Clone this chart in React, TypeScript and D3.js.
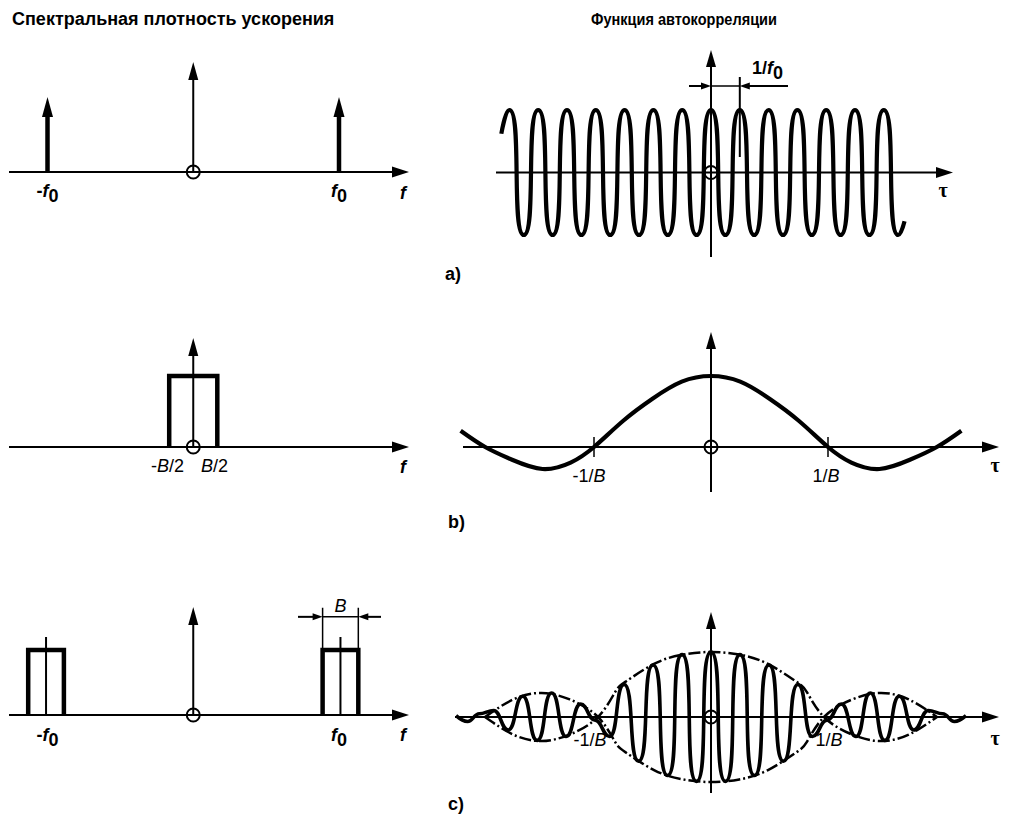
import React from 'react'
import * as d3 from 'd3'

const W = 1013
const H = 818

const titleSpectrum = 'Спектральная плотность ускорения'
const titleCorr = 'Функция автокорреляции'
const panelLetters = ['a)', 'b)', 'c)']

// left column: spectra, frequency in units of f0
const impulseFreqs = [-1, 1]
const impulseHeights = [1, 1]
const bandWidthB = 0.33
const bandHeightB = 1
const narrowBandCenters = [-1.01, 1.01]
const narrowBandWidth = 0.245
const narrowBandHeight = 1

// panel a right: cosine, extrema positions in units of 1/f0
const aPeaks = [-7, -6, -5, -4, -3, -2, -1, 0, 1, 2, 3, 4, 5, 6]
const aTroughs = [-6.5, -5.5, -4.5, -3.5, -2.5, -1.5, -0.5, 0.5, 1.5, 2.5, 3.5, 4.5, 5.5, 6.5]
const aEnds: [number, number][] = [[-7.28, 0.62], [6.72, -0.78]]

// panel b right: autocorrelation of band-limited noise, tau in units of 1/B
const bTau = [-2.14, -1.93, -1.7, -1.44, -1.2, -1, -0.75, -0.5, -0.25, 0, 0.25, 0.5, 0.75, 1, 1.2, 1.44, 1.7, 1.93, 2.14]
const bValue = [0.23, 0, -0.18, -0.31, -0.22, 0, 0.37, 0.68, 0.92, 1, 0.92, 0.68, 0.37, 0, -0.22, -0.31, -0.18, 0, 0.23]

// panel c right: carrier extrema (tau in carrier periods 1/f0) and envelope (tau in 1/B)
const cPeriodsPerInvB = 3.9
const cCarrierTau = [-8.8, -8.4, -8, -7.5, -7, -6.5, -6, -5.5, -5, -4.5, -4, -3.5, -3, -2.5, -2, -1.5, -1, -0.5, 0,
  0.5, 1, 1.5, 2, 2.5, 3, 3.5, 4, 4.5, 5, 5.5, 6, 6.5, 7, 7.5, 8, 8.4, 8.8]
const cCarrierValue = [0.02, -0.07, 0.05, 0.1, -0.2, 0.32, -0.36, 0.37, -0.3, 0.2, -0.05, -0.3, 0.5, -0.68, 0.8, -0.9, 0.96, -0.99, 1,
  -0.99, 0.96, -0.9, 0.8, -0.68, 0.5, -0.3, -0.05, 0.2, -0.3, 0.37, -0.36, 0.32, -0.2, 0.1, 0.05, -0.07, 0.02]
const cEnvTau = [-2, -1.75, -1.5, -1.25, -1, -0.85, -0.75, -0.5, -0.25, 0, 0.25, 0.5, 0.75, 0.85, 1, 1.25, 1.5, 1.75, 2]
const cEnvValue = [0, -0.27, -0.37, -0.27, 0, 0.38, 0.55, 0.82, 0.96, 1, 0.96, 0.82, 0.55, 0.38, 0, -0.27, -0.37, -0.27, 0]

const FONT = '"Liberation Sans", Arial, sans-serif'
const SERIF = '"Liberation Serif", serif'

// bezier between consecutive extrema with flat tangents; tall swings get tighter, rounder loops
function curveLoop(context: any) {
  let pts: [number, number][] = []
  return {
    areaStart() {},
    areaEnd() {},
    lineStart() { pts = [] },
    point(x: number, y: number) { pts.push([+x, +y]) },
    lineEnd() {
      if (!pts.length) return
      context.moveTo(pts[0][0], pts[0][1])
      for (let i = 1; i < pts.length; i++) {
        const [x0, y0] = pts[i - 1]
        const [x1, y1] = pts[i]
        const dx = x1 - x0
        const k = 0.4 + 0.5 * Math.min(1, Math.abs(y1 - y0) / 120)
        const c0 = i === 1 ? 0 : dx * k
        const c1 = i === pts.length - 1 ? 0 : dx * k
        context.bezierCurveTo(x0 + c0, y0, x1 - c1, y1, x1, y1)
      }
    },
  }
}

function tri(x: number, y: number, dir: 'up' | 'right' | 'left', len: number, half: number) {
  if (dir === 'up') return `${x},${y} ${x - half},${y + len} ${x + half},${y + len}`
  if (dir === 'right') return `${x},${y} ${x - len},${y - half} ${x - len},${y + half}`
  return `${x},${y} ${x + len},${y - half} ${x + len},${y + half}`
}

function F0({ x, y, minus = false }: { x: number; y: number; minus?: boolean }) {
  return (
    <text x={x} y={y} textAnchor="middle" fontSize={18} fontWeight={700} fontFamily={FONT}>
      {minus ? '-' : ''}<tspan fontStyle="italic">f</tspan><tspan dy={5}>0</tspan>
    </text>
  )
}

export default function App() {
  // left column scales
  const xF = d3.scaleLinear().domain([-1, 1]).range([47.5, 339])
  const yLa = d3.scaleLinear().domain([0, 1]).range([172, 97])
  const yLb = d3.scaleLinear().domain([0, 1]).range([447, 376])
  const yLc = d3.scaleLinear().domain([0, 1]).range([715, 650])
  const fAxis = [xF.invert(9), xF.invert(409)]

  // right column scales
  const xTa = d3.scaleLinear().domain([0, 1]).range([711, 739.8])
  const yTa = d3.scaleLinear().domain([-1, 1]).range([235, 110])
  const xTb = d3.scaleLinear().domain([0, 1]).range([711, 828])
  const yTb = d3.scaleLinear().domain([0, 1]).range([447, 376])
  const xTc = d3.scaleLinear().domain([0, 1]).range([711, 824])
  const yTc = d3.scaleLinear().domain([-1, 1]).range([782, 652])

  const aPts: [number, number][] = [
    ...aPeaks.map((t) => [t, 1] as [number, number]),
    ...aTroughs.map((t) => [t, -1] as [number, number]),
    ...aEnds,
  ].sort((p, q) => p[0] - q[0])
  const aPath = d3.line<[number, number]>().x((d) => xTa(d[0])).y((d) => yTa(d[1])).curve(curveLoop as any)(aPts) || ''

  const bPath = d3.line<number>().x((_, i) => xTb(bTau[i])).y((d) => yTb(d)).curve(d3.curveNatural)(bValue) || ''

  const cPath = d3.line<number>()
    .x((_, i) => xTc(cCarrierTau[i] / cPeriodsPerInvB))
    .y((d) => yTc(d))
    .curve(curveLoop as any)(cCarrierValue) || ''
  const envLine = (s: number) => d3.line<number>().x((_, i) => xTc(cEnvTau[i])).y((d) => yTc(s * d)).curve(d3.curveNatural)(cEnvValue) || ''

  const axis = { stroke: '#000', strokeWidth: 2, fill: 'none' }
  const thick = { stroke: '#000', strokeWidth: 4.5, fill: 'none' }

  const leftPanel = (y0: number, tipY: number) => (
    <g>
      <line x1={xF(fAxis[0])} x2={xF(fAxis[1]) - 10} y1={y0} y2={y0} {...axis} />
      <polygon points={tri(xF(fAxis[1]), y0, 'right', 17, 5.5)} />
      <line x1={xF(0)} x2={xF(0)} y1={y0} y2={tipY + 10} {...axis} />
      <polygon points={tri(xF(0), tipY, 'up', 18, 5)} />
      <circle cx={xF(0)} cy={y0} r={6.5} {...axis} />
    </g>
  )

  // bandwidth dimension of panel c
  const bL = xF(narrowBandCenters[1] - narrowBandWidth / 2)
  const bR = xF(narrowBandCenters[1] + narrowBandWidth / 2)
  const dimY = yLc(1.51)

  return (
    <div style={{ position: 'absolute', left: 0, top: 0 }}>
      <svg width={W} height={H} viewBox={`0 0 ${W} ${H}`} style={{ display: 'block', background: '#fff' }}>
        <text x={12} y={25} fontSize={18} fontWeight={700} fontFamily={FONT}>{titleSpectrum}</text>
        <text x={591} y={25} fontSize={17} fontWeight={700} fontFamily={FONT} textLength={186} lengthAdjust="spacingAndGlyphs">{titleCorr}</text>

        {/* left a: impulses */}
        {leftPanel(yLa(0), 62)}
        {impulseFreqs.map((f, i) => (
          <g key={i}>
            <line x1={xF(f)} x2={xF(f)} y1={yLa(0)} y2={yLa(impulseHeights[i]) + 12} {...thick} />
            <polygon points={tri(xF(f), yLa(impulseHeights[i]), 'up', 20, 5.5)} />
          </g>
        ))}
        <F0 x={xF(-1)} y={197} minus />
        <F0 x={xF(1)} y={197} />
        <text x={400} y={199} fontSize={18} fontWeight={700} fontStyle="italic" fontFamily={FONT}>f</text>

        {/* left b: band */}
        <path d={`M${xF(-bandWidthB / 2)},${yLb(0)}V${yLb(bandHeightB)}H${xF(bandWidthB / 2)}V${yLb(0)}`} {...thick} />
        {leftPanel(yLb(0), 338)}
        <text x={184} y={472} textAnchor="end" fontSize={18} fontFamily={FONT}>-<tspan fontStyle="italic">B</tspan>/2</text>
        <text x={201} y={472} fontSize={18} fontFamily={FONT}><tspan fontStyle="italic">B</tspan>/2</text>
        <text x={400} y={473} fontSize={18} fontWeight={700} fontStyle="italic" fontFamily={FONT}>f</text>

        {/* left c: two narrow bands */}
        {narrowBandCenters.map((c, i) => (
          <g key={i}>
            <path
              d={`M${xF(c - narrowBandWidth / 2)},${yLc(0)}V${yLc(narrowBandHeight)}H${xF(c + narrowBandWidth / 2)}V${yLc(0)}`}
              {...thick}
            />
            <line x1={xF(c)} x2={xF(c)} y1={yLc(0)} y2={yLc(1.2)} {...axis} />
          </g>
        ))}
        {leftPanel(yLc(0), 607)}
        <line x1={bL} x2={bL} y1={yLc(1)} y2={yLc(1.65)} stroke="#000" strokeWidth={1.5} />
        <line x1={bR} x2={bR} y1={yLc(1)} y2={yLc(1.65)} stroke="#000" strokeWidth={1.5} />
        <line x1={298} x2={bL - 8} y1={dimY} y2={dimY} stroke="#000" strokeWidth={2} />
        <polygon points={tri(bL, dimY, 'right', 10, 3.5)} />
        <line x1={bL} x2={bR} y1={dimY} y2={dimY} stroke="#000" strokeWidth={1.5} />
        <line x1={bR + 8} x2={381} y1={dimY} y2={dimY} stroke="#000" strokeWidth={2} />
        <polygon points={tri(bR, dimY, 'left', 10, 3.5)} />
        <text x={xF(narrowBandCenters[1])} y={612} textAnchor="middle" fontSize={18} fontStyle="italic" fontFamily={FONT}>B</text>
        <F0 x={xF(-1)} y={741} minus />
        <F0 x={xF(1)} y={741} />
        <text x={400} y={741} fontSize={18} fontWeight={700} fontStyle="italic" fontFamily={FONT}>f</text>

        {/* right a: cosine */}
        <line x1={496} x2={940} y1={yTa(0)} y2={yTa(0)} {...axis} />
        <polygon points={tri(953, yTa(0), 'right', 17, 5.5)} />
        <line x1={xTa(0)} x2={xTa(0)} y1={257} y2={60} {...axis} />
        <polygon points={tri(xTa(0), 50, 'up', 17, 5)} />
        <circle cx={xTa(0)} cy={yTa(0)} r={6.5} {...axis} />
        <path d={aPath} stroke="#000" strokeWidth={4.2} fill="none" />
        <line x1={xTa(1)} x2={xTa(1)} y1={77} y2={157} stroke="#000" strokeWidth={2} />
        <line x1={689} x2={xTa(0) - 8} y1={86} y2={86} stroke="#000" strokeWidth={2} />
        <polygon points={tri(xTa(0), 86, 'right', 10, 3.5)} />
        <line x1={xTa(0)} x2={xTa(1)} y1={86} y2={86} stroke="#000" strokeWidth={1.5} />
        <line x1={xTa(1) + 8} x2={788} y1={86} y2={86} stroke="#000" strokeWidth={2} />
        <polygon points={tri(xTa(1), 86, 'left', 10, 3.5)} />
        <text x={752} y={74} fontSize={18} fontWeight={700} fontFamily={FONT}>1/<tspan fontStyle="italic">f</tspan><tspan dy={5}>0</tspan></text>
        <text x={943} y={197} textAnchor="middle" fontSize={20} fontWeight={700} fontFamily={SERIF}>τ</text>
        <text x={445} y={280} fontSize={18} fontWeight={700} fontFamily={FONT}>{panelLetters[0]}</text>

        {/* right b: sinc-like */}
        <line x1={463} x2={985} y1={yTb(0)} y2={yTb(0)} {...axis} />
        <polygon points={tri(999, yTb(0), 'right', 17, 5.5)} />
        <line x1={xTb(0)} x2={xTb(0)} y1={492} y2={342} {...axis} />
        <polygon points={tri(xTb(0), 332, 'up', 17, 5)} />
        <circle cx={xTb(0)} cy={yTb(0)} r={6.5} {...axis} />
        {[-1, 1].map((t) => (
          <line key={t} x1={xTb(t)} x2={xTb(t)} y1={yTb(0) - 10} y2={yTb(0) + 10} stroke="#000" strokeWidth={1.5} />
        ))}
        <path d={bPath} stroke="#000" strokeWidth={4.2} fill="none" />
        <text x={xTb(-1) - 5} y={482} textAnchor="middle" fontSize={18} fontFamily={FONT}>-1/<tspan fontStyle="italic">B</tspan></text>
        <text x={xTb(1) - 2} y={482} textAnchor="middle" fontSize={18} fontFamily={FONT}>1/<tspan fontStyle="italic">B</tspan></text>
        <text x={995} y={472} textAnchor="middle" fontSize={20} fontWeight={700} fontFamily={SERIF}>τ</text>
        <text x={448} y={528} fontSize={18} fontWeight={700} fontFamily={FONT}>{panelLetters[1]}</text>

        {/* right c: modulated */}
        <line x1={455} x2={985} y1={yTc(0)} y2={yTc(0)} {...axis} />
        <polygon points={tri(999, yTc(0), 'right', 17, 5.5)} />
        <line x1={xTc(0)} x2={xTc(0)} y1={793} y2={622} {...axis} />
        <polygon points={tri(xTc(0), 612, 'up', 17, 5)} />
        <circle cx={xTc(0)} cy={yTc(0)} r={6.5} {...axis} />
        <path d={envLine(1)} stroke="#000" strokeWidth={2.5} fill="none" strokeDasharray="12 3 2 3" />
        <path d={envLine(-1)} stroke="#000" strokeWidth={2.5} fill="none" strokeDasharray="12 3 2 3" />
        <path d={cPath} stroke="#000" strokeWidth={3.6} fill="none" />
        <text x={xTc(-1) - 8} y={746} textAnchor="middle" fontSize={18} fontFamily={FONT}>-1/<tspan fontStyle="italic">B</tspan></text>
        <text x={xTc(1) + 5} y={746} textAnchor="middle" fontSize={18} fontFamily={FONT}>1/<tspan fontStyle="italic">B</tspan></text>
        <text x={995} y={745} textAnchor="middle" fontSize={20} fontWeight={700} fontFamily={SERIF}>τ</text>
        <text x={448} y={810} fontSize={18} fontWeight={700} fontFamily={FONT}>{panelLetters[2]}</text>
      </svg>
    </div>
  )
}
